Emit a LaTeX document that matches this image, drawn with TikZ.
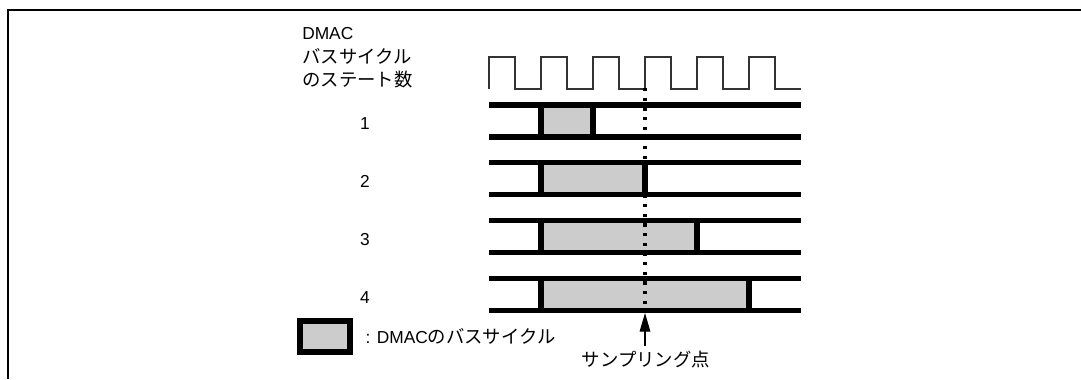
\documentclass[tikz,border=0pt]{standalone}
\usepackage{fontspec}
\setmainfont{Liberation Sans}
\newfontfamily\jp[Scale=1.06]{Noto Sans CJK JP}
\usetikzlibrary{arrows.meta,positioning}

\begin{document}
\begin{tikzpicture}[
  x=0.75pt, y=-0.75pt,
  font=\fontsize{13}{17.6}\selectfont,
  every node/.style={inner sep=0pt},
  frame/.style={line width=1.5pt},
  clk/.style={line width=0.85pt,black!80},
  bus/.style={line width=3.9pt},
  cyc/.style={fill=black!20},
  probe/.style={line width=3.4pt,dash pattern=on 2.6pt off 4.65pt},
  keybox/.style={draw,line width=4.5pt,fill=black!20,minimum width=38pt,minimum height=23pt},
  arr/.style={-{Triangle[length=14pt,width=8pt]},line width=0.9pt}
]
\useasboundingbox (0,0) rectangle (1081,379);
\draw[frame] (8,379) -- (8,10) -- (1081,10);

% header and clock
\node[anchor=west,align=left] (hdr) at (302,58) {DMAC\\{\jp バスサイクル}\\{\jp のステート数}};
\draw[clk] (489,89) \foreach \k in {0,...,5} { -- ++(0,-32) -- ++(26,0) -- ++(0,32) -- ++(26,0) };

% one bus row per state count
\foreach \i [evaluate=\i as \yt using 105+57.7*(\i-1),
             evaluate=\i as \xr using 541+52*\i] in {1,...,4} {
  \fill[cyc] (541,\yt) rectangle (\xr,\yt+32);
  \draw[bus] (541,\yt) -- (541,\yt+32) (\xr,\yt) -- (\xr,\yt+32);
  \draw[bus] (489,\yt) -- (801,\yt) (489,\yt+32) -- (801,\yt+32);
  \node (n\i) at (365,\yt+19) {\i};
}

% sampling point
\coordinate (smp) at (645,313);
\draw[probe] (645,88) -- (645,310);
\node[inner sep=4pt] (smptxt) at (646,360) {\jp サンプリング点};
\draw[arr] (smptxt.north -| smp) -- (smp);

% legend
\node[keybox] (key) at (325,336.5) {};
\node[right=9pt of key] (keytxt) {: DMAC{\jp のバスサイクル}};
\end{tikzpicture}
\end{document}
